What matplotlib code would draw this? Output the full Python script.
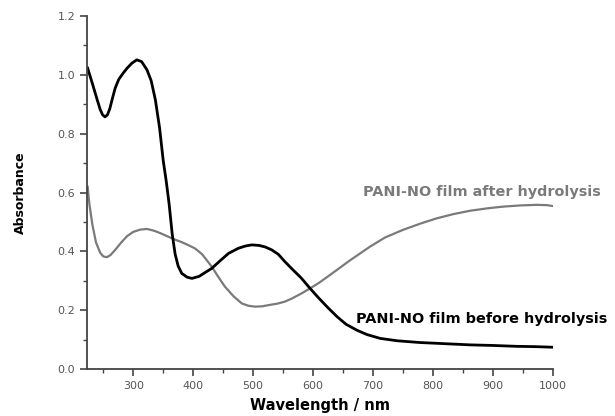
import numpy as np
import matplotlib
matplotlib.use("Agg")
import matplotlib.pyplot as plt
from matplotlib.ticker import MultipleLocator

# PANI-NO film before hydrolysis (black)
wl_before = [224, 232, 240, 245, 249, 253, 257, 261, 266, 270, 276, 283, 290, 298,
             306, 314, 323, 330, 337, 344, 350, 355, 360, 365, 370, 375, 381, 390,
             398, 410, 420, 431, 445, 459, 475, 487, 498, 510, 520, 531, 542, 553,
             565, 580, 595, 610, 625, 640, 655, 673, 690, 712, 740, 778, 820, 862,
             900, 940, 970, 1000]
abs_before = [1.023, 0.97, 0.915, 0.882, 0.864, 0.857, 0.864, 0.885, 0.925, 0.955,
              0.985, 1.005, 1.023, 1.04, 1.051, 1.045, 1.017, 0.98, 0.915, 0.82,
              0.71, 0.64, 0.56, 0.46, 0.39, 0.35, 0.325, 0.312, 0.308, 0.315, 0.328,
              0.342, 0.368, 0.393, 0.41, 0.418, 0.422, 0.42, 0.415, 0.405, 0.39,
              0.365, 0.34, 0.31, 0.274, 0.24, 0.208, 0.178, 0.152, 0.132, 0.117,
              0.104, 0.096, 0.09, 0.086, 0.082, 0.08, 0.077, 0.076, 0.074]

# PANI-NO film after hydrolysis (grey)
wl_after = [224, 227, 232, 238, 245, 250, 256, 262, 270, 280, 290, 300, 312, 323,
            335, 345, 356, 367, 380, 392, 403, 415, 431, 442, 453, 467, 481, 492,
            503, 515, 528, 540, 553, 565, 580, 595, 610, 625, 640, 660, 680, 695,
            720, 750, 780, 806, 835, 862, 890, 917, 945, 973, 990, 1000]
abs_after = [0.62, 0.56, 0.49, 0.43, 0.395, 0.383, 0.38, 0.387, 0.405, 0.43, 0.452,
             0.466, 0.474, 0.476, 0.47, 0.462, 0.452, 0.442, 0.432, 0.421, 0.41,
             0.39, 0.348, 0.313, 0.28, 0.248, 0.223, 0.215, 0.212, 0.213, 0.218,
             0.222, 0.229, 0.24, 0.256, 0.274, 0.293, 0.315, 0.337, 0.367, 0.395,
             0.416, 0.447, 0.473, 0.495, 0.512, 0.527, 0.538, 0.546, 0.552, 0.556,
             0.558, 0.557, 0.554]

plt.rcParams['font.family'] = ['DejaVu Sans']

fig = plt.figure(figsize=(6.15, 4.16), dpi=100)
ax = fig.add_axes([0.1415, 0.113, 0.7575, 0.8485])

grey = '#7a7a7a'
ax.plot(wl_after, abs_after, color=grey, lw=1.6)
ax.plot(wl_before, abs_before, color='black', lw=2.0)

ax.set_xlim(223, 1000)
ax.set_ylim(0, 1.2)
ax.xaxis.set_minor_locator(MultipleLocator(50))
ax.yaxis.set_major_locator(MultipleLocator(0.2))
ax.yaxis.set_minor_locator(MultipleLocator(0.1))
ax.set_xticks(range(300, 1001, 100))
ax.yaxis.set_major_formatter(matplotlib.ticker.FormatStrFormatter('%.1f'))

for s in ['top', 'right']:
    ax.spines[s].set_visible(False)
for s in ['left', 'bottom']:
    ax.spines[s].set_color('#444444')
    ax.spines[s].set_linewidth(1.3)

ax.tick_params(which='major', direction='out', length=5, width=1.2,
               color='#444444', labelcolor='#555555', labelsize=8)
ax.tick_params(which='minor', direction='out', length=3, width=1.0, color='#444444')

ax.set_xlabel('Wavelength / nm', fontsize=10.5, fontweight='bold', labelpad=5)
ax.set_ylabel('Absorbance', fontsize=9, fontweight='bold', labelpad=22)

ax.text(683, 0.602, 'PANI-NO film after hydrolysis', color=grey, fontsize=10.4,
        fontweight='bold', va='center', ha='left', clip_on=False)
ax.text(672, 0.17, 'PANI-NO film before hydrolysis', color='black', fontsize=10.4,
        fontweight='bold', va='center', ha='left', clip_on=False)

fig.savefig('out.png', dpi=100)
